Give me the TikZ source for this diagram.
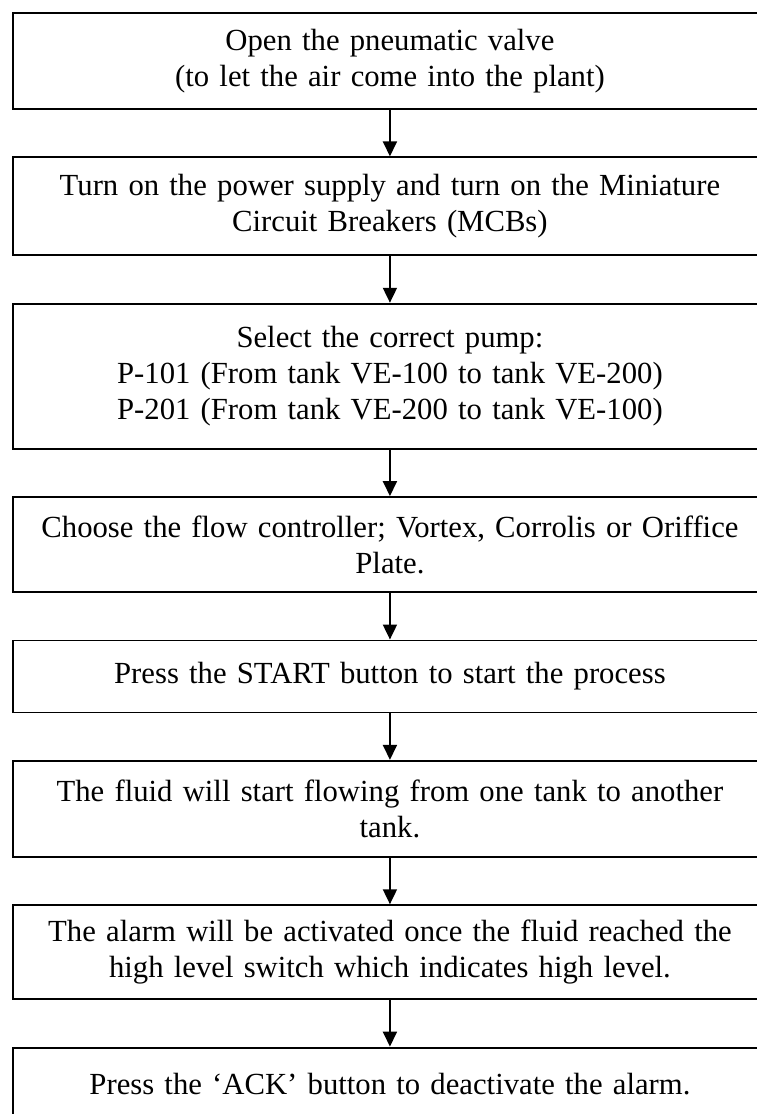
\documentclass[tikz,border=0pt]{standalone}
\usepackage{fontspec}
\setmainfont{Liberation Serif}
\usepackage{tikz}
\usetikzlibrary{arrows.meta, positioning}

\tikzset{
  stepbox/.style={draw, line width=1.6pt, minimum width=22.62cm,
        text width=22.3cm, align=center, inner sep=0pt,
        font=\fontsize{26.2}{30.9}\selectfont},
  flow/.style={->, line width=1.6pt}
}

\begin{document}
\begin{tikzpicture}[>={Triangle[width=4.2mm, length=4.5mm]}, node distance=1.395cm]

  \useasboundingbox (0,0) rectangle (22.68,-33.42);

  \node[stepbox, minimum height=2.88cm, anchor=north west] (valve)
        at (0.36,-0.36)
        {Open the pneumatic valve\\(to let the air come into the plant)};

  \node[stepbox, minimum height=2.94cm, below=of valve] (power)
        {Turn on the power supply and turn on the Miniature\\Circuit Breakers (MCBs)};

  \node[stepbox, minimum height=4.35cm, below=of power] (pump)
        {Select the correct pump:\\P-101 (From tank VE-100 to tank VE-200)\\P-201 (From tank VE-200 to tank VE-100)};

  \node[stepbox, minimum height=2.85cm, below=of pump] (controller)
        {Choose the flow controller; Vortex, Corrolis or Oriffice\\Plate.};

  \node[stepbox, minimum height=2.16cm, below=of controller] (start)
        {Press the START button to start the process};

  \node[stepbox, minimum height=2.88cm, below=of start] (fluid)
        {The fluid will start flowing from one tank to another\\tank.};

  \node[stepbox, minimum height=2.82cm, below=of fluid] (alarm)
        {The alarm will be activated once the fluid reached the\\high level switch which indicates high level.};

  \node[stepbox, minimum height=2.16cm, below=of alarm] (ack)
        {Press the ‘ACK’ button to deactivate the alarm.};

  \draw[flow] (valve) -- (power);
  \draw[flow] (power) -- (pump);
  \draw[flow] (pump) -- (controller);
  \draw[flow] (controller) -- (start);
  \draw[flow] (start) -- (fluid);
  \draw[flow] (fluid) -- (alarm);
  \draw[flow] (alarm) -- (ack);

\end{tikzpicture}
\end{document}
